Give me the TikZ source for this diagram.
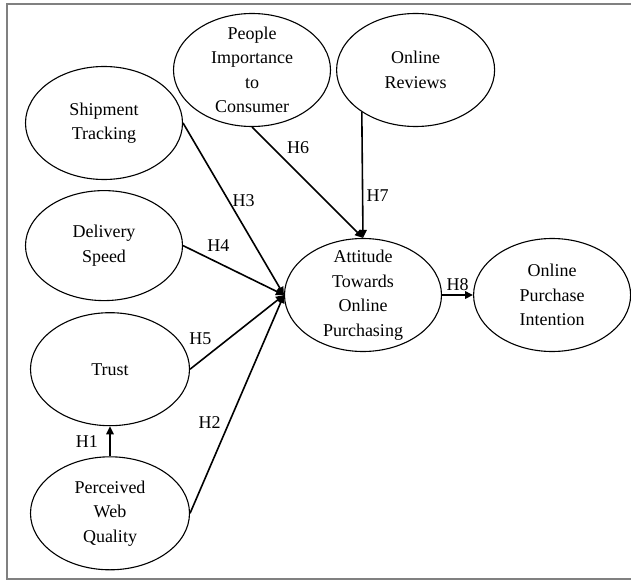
\documentclass[tikz,border=0pt]{standalone}
\usepackage{fontspec}
\setmainfont{Liberation Serif}
\usetikzlibrary{arrows.meta, positioning, shapes.geometric}
\tikzstyle{model}=[>={Triangle[length=8pt,width=7.5pt]}, x=1pt, y=1pt,
  font=\fontsize{18}{24.5}\selectfont]
\tikzstyle{construct}=[draw, ellipse, line width=1.1pt, minimum width=157pt,
  minimum height=113pt, inner sep=-12pt, align=center]

\begin{document}
\begin{tikzpicture}[model, auto]
  \useasboundingbox (0,0) rectangle (631,582);
  \draw[gray, line width=1.6pt] (7,3) rectangle (640,578);
  \node[construct] (ship) at (104,459) {Shipment\\Tracking};
  \node[construct, minimum height=110pt] (del) [below=10pt of ship] {Delivery\\Speed};
  \node[construct, minimum width=159pt] (trust) [below=11pt of del, xshift=6pt] {Trust};
  \node[construct, minimum width=159pt] (pwq) [below=30pt of trust] {Perceived\\Web\\Quality};
  \node[construct] (people) at (252,512) {People\\Importance\\to\\Consumer};
  \node[construct, minimum width=158pt] (rev) [right=5pt of people] {Online\\Reviews};
  \node[construct] (att) at (363,287) {Attitude\\Towards\\Online\\Purchasing};
  \node[construct] (opi) [right=31pt of att] {Online\\Purchase\\Intention};
  \path[->, line width=1.6pt] (ship.east)   edge node[pos=.45, right] {H3} (att.west);
  \path[->, line width=1.6pt] (del.east)    edge node[pos=.2, above right] {H4} (att.west);
  \path[->, line width=1.6pt] (trust.east)  edge node[pos=.27, above left] {H5} (att.west);
  \path[->, line width=1.6pt] (pwq.east)    edge node[pos=.37, above left] {H2} (att.west);
  \path[->, line width=1.6pt] (pwq.north)   edge node[left=8pt] {H1} (trust.south);
  \path[->, line width=1.6pt] (people.south) edge node[pos=.28, above right] {H6} (att.north);
  \path[->, line width=1.6pt] (rev.218)     edge node[pos=.66, right] {H7} (att.north);
  \path[->, line width=1.6pt] (att.east)    edge node[above] {H8} (opi.west);
\end{tikzpicture}
\end{document}
